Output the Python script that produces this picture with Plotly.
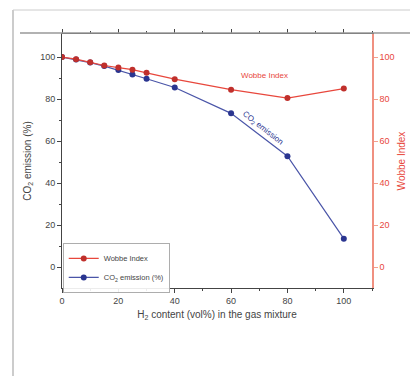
import plotly.graph_objects as go

h2_content = [0, 5, 10, 15, 20, 25, 30, 40, 60, 80, 100]
wobbe_index = [100, 99, 97.5, 96, 95, 94, 92.5, 89.5, 84.5, 80.5, 85]
co2_emission = [100, 98.8, 97.4, 95.7, 93.8, 91.7, 89.7, 85.5, 73.2, 52.8, 13.5]

RED = "#e8473c"
BLUE = "#2a3590"
FONT = "Liberation Sans, Arial, sans-serif"

fig = go.Figure()
fig.add_trace(go.Scatter(
    x=h2_content, y=wobbe_index, name="Wobbe Index", mode="lines+markers",
    line=dict(color=RED, width=1.2), marker=dict(color="#c0302c", size=6),
    yaxis="y2"))
fig.add_trace(go.Scatter(
    x=h2_content, y=co2_emission, name="CO<sub>2</sub> emission (%)", mode="lines+markers",
    line=dict(color="#4a55a8", width=1.2), marker=dict(color=BLUE, size=6)))

PW, PH = 310, 254
fig.update_layout(
    width=410, height=368,
    margin=dict(l=54, r=46, t=26, b=88),
    paper_bgcolor="white", plot_bgcolor="white",
    font=dict(family=FONT, size=9, color="#444"),
    showlegend=True,
    legend=dict(x=0.003, y=-0.02, xanchor="left", yanchor="bottom",
                bgcolor="rgba(255,255,255,0.9)", bordercolor="#999", borderwidth=0.8,
                font=dict(size=7.5, color="#444"), tracegroupgap=0, itemwidth=30,
                traceorder="normal"),
    xaxis=dict(range=[0, 110], tickvals=[0, 20, 40, 60, 80, 100], automargin=False,
               ticks="outside", ticklen=4, tickcolor="#444", showgrid=False, zeroline=False,
               showline=True, linecolor="#444", linewidth=1, mirror="ticks",
               minor=dict(tickvals=[10, 30, 50, 70, 90, 110], ticks="outside", ticklen=2, tickcolor="#444"),
               title=dict(text="H<sub>2</sub> content (vol%) in the gas mixture",
                          font=dict(size=10, color="#444"), standoff=6)),
    yaxis=dict(range=[-10, 111], tickvals=[0, 20, 40, 60, 80, 100], automargin=False,
               ticks="outside", ticklen=4, tickcolor="#444", showgrid=False, zeroline=False,
               showline=True, linecolor="#444", linewidth=1,
               minor=dict(tickvals=[10, 30, 50, 70, 90], ticks="outside", ticklen=2, tickcolor="#444"),
               title=dict(text="CO<sub>2</sub> emission (%)", font=dict(size=10, color="#444"), standoff=6)),
    yaxis2=dict(range=[-10, 111], tickvals=[0, 20, 40, 60, 80, 100], overlaying="y", side="right",
                automargin=False,
                ticks="outside", ticklen=4, tickcolor="#f2a090", showgrid=False, zeroline=False,
                showline=True, linecolor="#f09080", linewidth=1.5,
                tickfont=dict(color=RED),
                title=dict(text="Wobbe Index", font=dict(size=10, color=RED), standoff=4)),
)

# annotations along the curves
fig.add_annotation(x=72, y=91, text="Wobbe Index", showarrow=False,
                   font=dict(size=8, color=RED))
fig.add_annotation(x=71, y=66, text="CO<sub>2</sub> emission", showarrow=False,
                   textangle=38, font=dict(size=8, color=BLUE))

# frame lines of the card
fig.add_shape(type="line", xref="paper", yref="paper",
              x0=-42/PW, x1=1.0 + 40/PW, y0=1.0 + 1/PH, y1=1.0 + 1/PH,
              line=dict(color="#999", width=1.5))
fig.add_shape(type="line", xref="paper", yref="paper",
              x0=-49/PW, x1=-49/PW, y0=-88/PH, y1=1 + 24/PH,
              line=dict(color="#bbb", width=1.5))
fig.add_shape(type="line", xref="paper", yref="paper",
              x0=-49/PW, x1=1 + 38/PW, y0=1 + 24/PH, y1=1 + 24/PH,
              line=dict(color="#ccc", width=1))

fig.write_html("out.html")
